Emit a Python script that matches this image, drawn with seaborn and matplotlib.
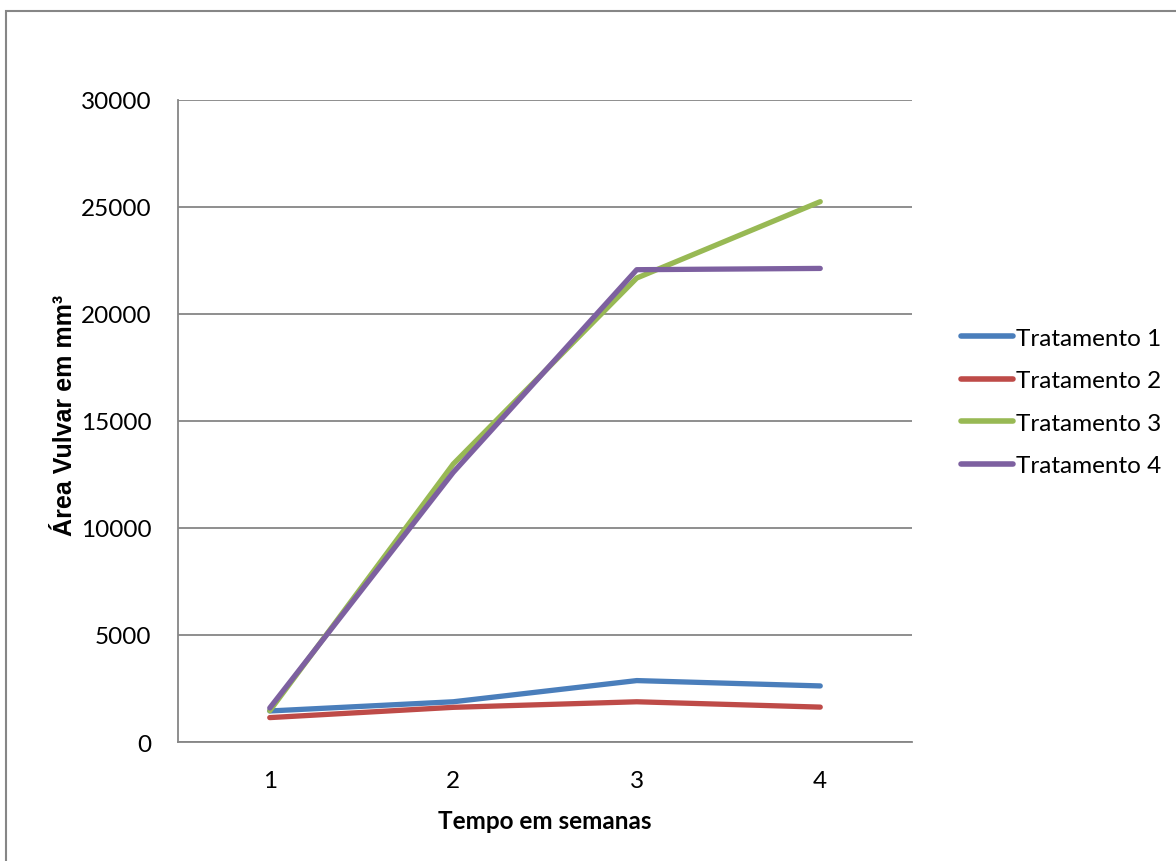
import pandas as pd
import matplotlib.pyplot as plt
import seaborn as sns
from matplotlib.patches import Rectangle
from matplotlib.font_manager import FontProperties

# values
semanas = [1, 2, 3, 4]
tratamento_1 = [1450, 1880, 2870, 2620]
tratamento_2 = [1140, 1620, 1880, 1630]
tratamento_3 = [1460, 12990, 21680, 25250]
tratamento_4 = [1590, 12600, 22070, 22130]
series_names = ["Tratamento 1", "Tratamento 2", "Tratamento 3", "Tratamento 4"]
colors = ["#4A7EBB", "#BE4B48", "#98B954", "#7D60A0"]

rows = []
for name, vals in zip(series_names, [tratamento_1, tratamento_2, tratamento_3, tratamento_4]):
    for s, v in zip(semanas, vals):
        rows.append({"semana": s, "area": v, "serie": name})
df = pd.DataFrame(rows)

sns.set_style("white")
plt.rcParams["font.family"] = ["Lato", "DejaVu Sans"]
plt.rcParams["text.color"] = "black"
plt.rcParams["xtick.color"] = "black"
plt.rcParams["ytick.color"] = "black"
plt.rcParams["axes.labelcolor"] = "black"

fig = plt.figure(figsize=(11.76, 8.62), dpi=100)
ax = fig.add_axes([178 / 1176, 1 - 743 / 862, (912 - 178) / 1176, (743 - 101) / 862])

sns.lineplot(data=df, x="semana", y="area", hue="serie", hue_order=series_names,
             palette=colors, linewidth=3.8, ax=ax, legend=True)
for ln in ax.lines:
    ln.set_solid_capstyle("round")
    ln.set_solid_joinstyle("round")

ax.set_xlim(0.5, 4.5)
ax.set_ylim(0, 30000)
ax.set_yticks(range(0, 30001, 5000))
ax.yaxis.grid(True, color="#868686", linewidth=1.3)
ax.set_axisbelow(True)

# category axis: tick marks between categories, labels at category centres
ax.set_xticks([0.5, 1.5, 2.5, 3.5, 4.5])
ax.set_xticklabels([])
ax.set_xticks(semanas, minor=True)
ax.set_xticklabels([str(s) for s in semanas], minor=True)
ax.tick_params(axis="x", which="major", direction="out", length=7, width=1.3, color="#868686")
ax.tick_params(axis="x", which="minor", length=0, pad=20, labelsize=17.5)
ax.tick_params(axis="y", direction="out", length=7, width=1.3, color="#868686", pad=12, labelsize=17.5)

for side in ["top", "right"]:
    ax.spines[side].set_visible(False)
for side in ["left", "bottom"]:
    ax.spines[side].set_color("#868686")
    ax.spines[side].set_linewidth(1.3)

ax.set_xlabel("Tempo em semanas", fontsize=17.5, fontweight="bold", labelpad=13)
ylab_font = FontProperties(family="Liberation Sans", weight="bold", size=18)
ax.set_ylabel("Área Vulvar em mm³", fontproperties=ylab_font)
ax.yaxis.set_label_coords(-0.138, 0.51)

leg = ax.legend(loc="center left", bbox_to_anchor=(951 / 1176, 1 - 403 / 862),
                bbox_transform=fig.transFigure, frameon=False, fontsize=17.5,
                handlelength=2.15, handletextpad=0.12, labelspacing=0.89, borderaxespad=0)
for h in leg.get_lines():
    h.set_linewidth(4)
    h.set_solid_capstyle("round")

# chart area border (cut off at right and bottom in the reference)
fig.patches.append(Rectangle((5.5 / 1176, -0.1), 1.2, 1 - 12 / 862 + 0.1,
                             transform=fig.transFigure, fill=False,
                             edgecolor="#868686", linewidth=1.5))

fig.savefig("out.png", dpi=100)
